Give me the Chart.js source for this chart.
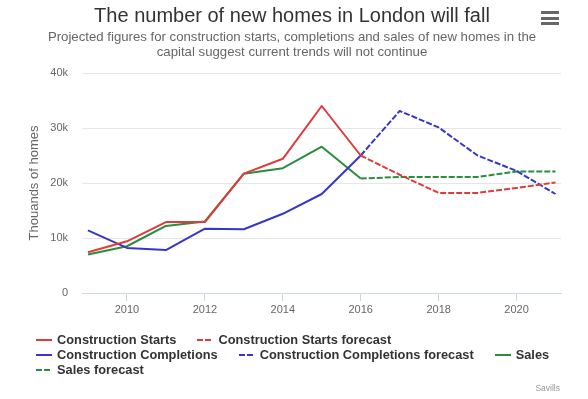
<!DOCTYPE html>
<html>
<head>
<meta charset="utf-8">
<title>The number of new homes in London will fall</title>
<script src="https://cdn.jsdelivr.net/npm/chart.js@4.4.0/dist/chart.umd.min.js"></script>
<style>
  html, body { margin: 0; padding: 0; background: #fff; }
  #wrap { position: relative; width: 588px; height: 399px; font-family: "Liberation Sans", Arial, sans-serif; }
  #chart { position: absolute; left: 0; top: 0; }
  #title { position: absolute; left: 0; width: 584px; top: 3px; text-align: center; font-size: 20px; line-height: 24px; color: #333; }
  #subtitle { position: absolute; left: 0; width: 584px; top: 30px; text-align: center; font-size: 13.2px; line-height: 14.6px; color: #666; }
  #menu { position: absolute; left: 541px; top: 11px; width: 18px; }
  #menu div { height: 3px; background: #666; margin-bottom: 2.5px; }
  #legend { position: absolute; left: 36px; top: 332px; width: 555px; display: flex; flex-wrap: wrap; font-size: 12.8px; font-weight: bold; color: #333; line-height: 15px; }
  #legend .item { display: flex; align-items: center; margin-right: 21px; white-space: nowrap; }
  #legend svg { margin-right: 5px; }
  #credits { position: absolute; right: 28px; top: 383px; font-size: 8.5px; color: #999; }
</style>
</head>
<body>
<div id="wrap">
  <canvas id="chart" width="588" height="399"></canvas>
  <div id="title">The number of new homes in London will fall</div>
  <div id="subtitle">Projected figures for construction starts, completions and sales of new homes in the<br>capital suggest current trends will not continue</div>
  <div id="menu"><div></div><div></div><div></div></div>
  <div id="legend"></div>
  <div id="credits">Savills</div>
</div>
<script>
document.addEventListener("DOMContentLoaded", function () {
  // years for actual figures and for the forecast part
  const actualYears = [2009, 2010, 2011, 2012, 2013, 2014, 2015, 2016];
  const forecastYears = [2016, 2017, 2018, 2019, 2020, 2021];
  const tickYears = [2010, 2012, 2014, 2016, 2018, 2020];
  const yTicks = [0, 10, 20, 30, 40];

  // thousands of homes
  const startsActual = [7.4, 9.4, 12.9, 12.9, 21.7, 24.4, 34.0, 25.0];
  const startsForecast = [25.0, 21.5, 18.2, 18.2, 19.1, 20.1];
  const completionsActual = [11.4, 8.2, 7.8, 11.7, 11.6, 14.4, 18.0, 25.0];
  const completionsForecast = [25.0, 33.1, 30.1, 25.0, 22.2, 18.0];
  const salesActual = [7.0, 8.5, 12.2, 13.0, 21.7, 22.7, 26.6, 20.8];
  const salesForecast = [20.8, 21.1, 21.1, 21.1, 22.1, 22.1];

  const red = '#e03a3a', blue = '#3636cc', green = '#2b8c3e';
  const dash = [6, 2];

  function points(xs, ys) {
    return xs.map((x, i) => ({x: x, y: ys[i]}));
  }

  function series(label, xs, ys, color, forecast) {
    return {
      label: label,
      data: points(xs, ys),
      borderColor: color,
      backgroundColor: color,
      borderDash: forecast ? dash : [],
      fill: false
    };
  }

  const ctx = document.getElementById('chart').getContext('2d');
  Chart.defaults.font.family = '"Liberation Sans", Arial, sans-serif';

  const chart = new Chart(ctx, {
    type: 'line',
    data: {
      datasets: [
        series('Construction Starts', actualYears, startsActual, red, false),
        series('Construction Starts forecast', forecastYears, startsForecast, red, true),
        series('Construction Completions', actualYears, completionsActual, blue, false),
        series('Construction Completions forecast', forecastYears, completionsForecast, blue, true),
        series('Sales', actualYears, salesActual, green, false),
        series('Sales forecast', forecastYears, salesForecast, green, true)
      ]
    },
    options: {
      responsive: false,
      animation: false,
      layout: { padding: { top: 73, right: 27, left: 0, bottom: 0 } },
      elements: {
        point: { radius: 0, hoverRadius: 0 },
        line: { borderWidth: 2, tension: 0, borderJoinStyle: 'round' }
      },
      plugins: {
        legend: { display: false },
        tooltip: { enabled: false }
      },
      scales: {
        x: {
          type: 'linear',
          min: 2008.846,
          max: 2021.141,
          afterBuildTicks: s => { s.ticks = tickYears.map(v => ({value: v})); },
          afterFit: s => { s.height = 106; },
          grid: { drawOnChartArea: false, color: '#ccd6eb', tickLength: 8 },
          border: { color: '#ccd6eb' },
          ticks: {
            padding: 2, color: '#666', font: { size: 11 },
            maxRotation: 0, autoSkip: false,
            callback: v => String(v)
          }
        },
        y: {
          min: 0,
          max: 40,
          afterBuildTicks: s => { s.ticks = yTicks.map(v => ({value: v})); },
          afterFit: s => { s.width = 82; },
          grid: { color: '#e6e6e6', drawTicks: false },
          border: { display: false },
          ticks: {
            padding: 14, color: '#666', font: { size: 11 },
            callback: v => v === 0 ? '0' : v + 'k'
          },
          title: {
            display: true,
            text: 'Thouands of homes',
            color: '#666',
            font: { size: 13 },
            padding: { top: 27, bottom: 0 }
          }
        }
      }
    }
  });

  // html legend built from the chart's datasets
  const legendEl = document.getElementById('legend');
  chart.data.datasets.forEach(ds => {
    const item = document.createElement('span');
    item.className = 'item';
    const dashAttr = ds.borderDash.length ? ' stroke-dasharray="' + ds.borderDash.join(',') + '"' : '';
    item.innerHTML = '<svg width="16" height="12"><line x1="0" y1="6" x2="16" y2="6" stroke="' +
      ds.borderColor + '" stroke-width="2"' + dashAttr + '/></svg>';
    const txt = document.createElement('span');
    txt.textContent = ds.label;
    item.appendChild(txt);
    legendEl.appendChild(item);
  });
});
</script>
</body>
</html>
